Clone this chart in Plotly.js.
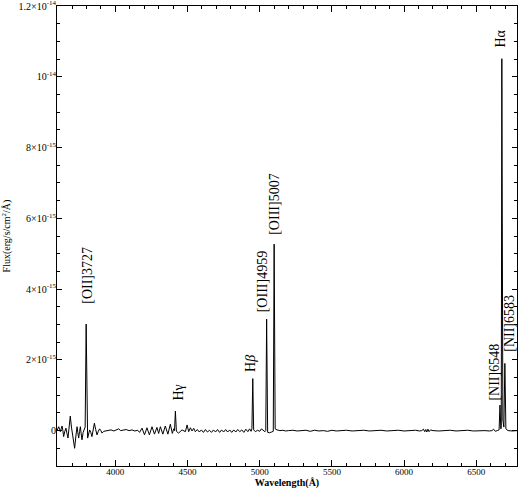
<!DOCTYPE html>
<html>
<head>
<meta charset="utf-8">
<script src="https://cdn.plot.ly/plotly-3.0.1.min.js"></script>
<style>
  html, body { margin: 0; padding: 0; background: #fff; }
  #spec { width: 520px; height: 490px; }
</style>
</head>
<body>
<div id="spec"></div>
<script>
// observed wavelength (Angstrom)
var wave = [
  3596, 3603, 3608, 3614, 3619, 3625, 3631, 3637, 3642, 3650,
  3658, 3665, 3672, 3680, 3688, 3696, 3705, 3711, 3718, 3727,
  3735, 3740, 3746, 3752, 3758, 3763, 3769, 3777, 3785, 3791,
  3798, 3803, 3808, 3822, 3830, 3838, 3846, 3855, 3864, 3873,
  3882, 3891, 3900, 3908, 3920, 3931, 3950, 3970, 3990, 4005,
  4023, 4037, 4055, 4075, 4095, 4115, 4135, 4155, 4168, 4185,
  4202, 4219, 4236, 4254, 4271, 4288, 4300, 4312, 4329, 4346,
  4364, 4381, 4395, 4404, 4410, 4416, 4423, 4438, 4462, 4485,
  4497, 4508, 4520, 4531, 4543, 4554, 4568, 4582, 4596, 4610,
  4624, 4638, 4652, 4666, 4680, 4694, 4708, 4722, 4736, 4750,
  4764, 4778, 4792, 4806, 4820, 4834, 4848, 4862, 4876, 4890,
  4904, 4918, 4930, 4940, 4946, 4952, 4958, 4970, 4985, 5000,
  5012, 5025, 5036, 5042, 5048, 5055, 5068, 5082, 5094, 5100,
  5107, 5120, 5140, 5160, 5180, 5200, 5230, 5260, 5290, 5320,
  5350, 5380, 5410, 5440, 5470, 5500, 5530, 5560, 5600, 5640,
  5680, 5720, 5760, 5800, 5840, 5880, 5920, 5960, 6000, 6040,
  6080, 6105, 6122, 6134, 6143, 6150, 6157, 6165, 6173, 6183,
  6200, 6240, 6280, 6320, 6360, 6400, 6440, 6480, 6520, 6560,
  6590, 6608, 6620, 6632, 6645, 6652, 6658, 6664, 6670, 6673,
  6677, 6684, 6691, 6698, 6705, 6720, 6750, 6782
];

// flux in units of 1e-15 erg/s/cm2/A
var flux = [
  0.00, 0.065, 0.11, 0.04, -0.03, 0.05, 0.13, 0.00, -0.17, -0.02,
  0.07, -0.08, -0.21, 0.10, 0.41, 0.10, -0.21, -0.35, -0.50, -0.15,
  0.11, -0.05, -0.21, -0.03, 0.11, -0.08, -0.26, -0.05, 0.07, 0.10,
  3.01, 0.00, -0.21, 0.02, -0.05, -0.17, 0.02, 0.21, 0.03, -0.12,
  -0.02, 0.05, 0.00, -0.07, -0.02, -0.01, 0.00, 0.02, -0.01, 0.01,
  0.05, 0.00, 0.01, 0.03, 0.00, 0.02, -0.01, 0.01, -0.05, 0.07,
  -0.12, 0.08, -0.12, 0.11, -0.10, 0.09, -0.08, 0.11, -0.10, 0.13,
  -0.10, 0.18, -0.08, 0.05, 0.00, 0.55, -0.02, -0.07, 0.02, -0.03,
  0.16, -0.03, 0.08, -0.01, 0.065, -0.03, 0.03, -0.04, 0.02, -0.05,
  0.03, -0.04, 0.01, -0.05, 0.02, -0.04, 0.03, -0.05, 0.02, -0.04,
  0.03, -0.04, 0.02, -0.05, 0.02, -0.04, 0.03, -0.03, 0.02, -0.05,
  0.04, -0.03, 0.05, -0.02, 0.05, 1.47, 0.02, -0.03, 0.01, -0.02,
  0.05, -0.01, -0.03, 0.00, 3.15, -0.05, -0.06, -0.04, -0.02, 5.27,
  0.05, 0.02, 0.00, 0.01, -0.01, 0.00, 0.01, -0.01, 0.00, 0.01,
  -0.02, 0.01, -0.01, 0.00, -0.02, 0.01, -0.01, 0.00, 0.01, -0.01,
  0.00, 0.01, -0.01, 0.00, 0.01, -0.01, 0.00, 0.01, -0.01, 0.00,
  0.01, -0.01, 0.00, 0.04, -0.03, 0.03, -0.04, 0.04, -0.03, 0.02,
  0.00, -0.01, 0.00, 0.01, -0.01, 0.00, 0.01, -0.01, 0.00, 0.00,
  -0.01, 0.00, 0.04, -0.02, 0.00, 0.02, 0.02, 0.72, 0.05, 0.10,
  10.51, 0.30, 0.10, 1.90, 0.05, 0.00, -0.01, 0.00
];

// emission line labels and the observed wavelength they mark
var lineNames = ['[OII]3727', 'H\u03b3', 'H<i>\u03b2</i>', '[OIII]4959', '[OIII]5007',
                 '[NII]6548', 'H\u03b1', '[NII]6583'];
var lineWave = [3798, 4416, 4952, 5048, 5100, 6664, 6677, 6698];

var yTickVals = [0, 2, 4, 6, 8, 10, 12];
var yTickText = ['0', '2\u00d710<sup>-15</sup>', '4\u00d710<sup>-15</sup>', '6\u00d710<sup>-15</sup>',
                 '8\u00d710<sup>-15</sup>', '10<sup>-14</sup>', '1.2\u00d710<sup>-14</sup>'];

// label offsets in pixels (dx, gap above the peak)
var labelDx  = [1, 3, -3, -4, 0, -5, -1, 5];
var labelGap = [18, 9, 5, 5, 7, 3, 9, 10];

function peakNear(w) {
  var best = -Infinity;
  for (var i = 0; i < wave.length; i++) {
    if (Math.abs(wave[i] - w) <= 6 && flux[i] > best) best = flux[i];
  }
  return best;
}

var annotations = lineNames.map(function (name, i) {
  return {
    x: lineWave[i], y: peakNear(lineWave[i]),
    xref: 'x', yref: 'y',
    text: name, showarrow: false, textangle: -90,
    xanchor: 'center', yanchor: 'bottom',
    xshift: labelDx[i], yshift: labelGap[i],
    font: {family: 'Liberation Serif, serif', size: 14, color: '#000'}
  };
});

var trace = {
  type: 'scatter', mode: 'lines',
  x: wave, y: flux,
  line: {color: '#000', width: 1},
  hoverinfo: 'none'
};

var layout = {
  width: 520, height: 490,
  margin: {l: 57, r: 3, t: 6, b: 24},
  paper_bgcolor: '#fff', plot_bgcolor: '#fff',
  showlegend: false,
  xaxis: {
    range: [3596, 6782],
    showgrid: false, zeroline: false,
    showline: true, linecolor: '#000', linewidth: 1, mirror: 'ticks',
    ticks: 'inside', ticklen: 6, tickwidth: 1, tickcolor: '#000',
    dtick: 500, tick0: 4000,
    minor: {dtick: 100, ticks: 'inside', ticklen: 3, tickcolor: '#000', showgrid: false},
    tickfont: {family: 'Liberation Serif, serif', size: 9, color: '#000'},
    ticklabelstandoff: -3,
    automargin: false,
    title: {text: '<b>Wavelength(\u00c5)</b>', standoff: 1,
            font: {family: 'Liberation Serif, serif', size: 10, color: '#000'}}
  },
  yaxis: {
    range: [-1, 12],
    showgrid: false, zeroline: false,
    showline: true, linecolor: '#000', linewidth: 1, mirror: 'ticks',
    ticks: 'inside', ticklen: 5, tickwidth: 1, tickcolor: '#000',
    tickvals: yTickVals, ticktext: yTickText,
    ticklabeloverflow: 'allow',
    ticklabelstandoff: -2,
    minor: {dtick: 0.5, ticks: 'inside', ticklen: 3, tickcolor: '#000', showgrid: false},
    tickfont: {family: 'Liberation Serif, serif', size: 10, color: '#000'},
    automargin: false,
    title: {text: 'Flux(erg/s/cm<sup>2</sup>/\u00c5)', standoff: 8,
            font: {family: 'Liberation Serif, serif', size: 10, color: '#000'}}
  },
  annotations: annotations
};

Plotly.newPlot('spec', [trace], layout, {staticPlot: true, displayModeBar: false});
</script>
</body>
</html>
